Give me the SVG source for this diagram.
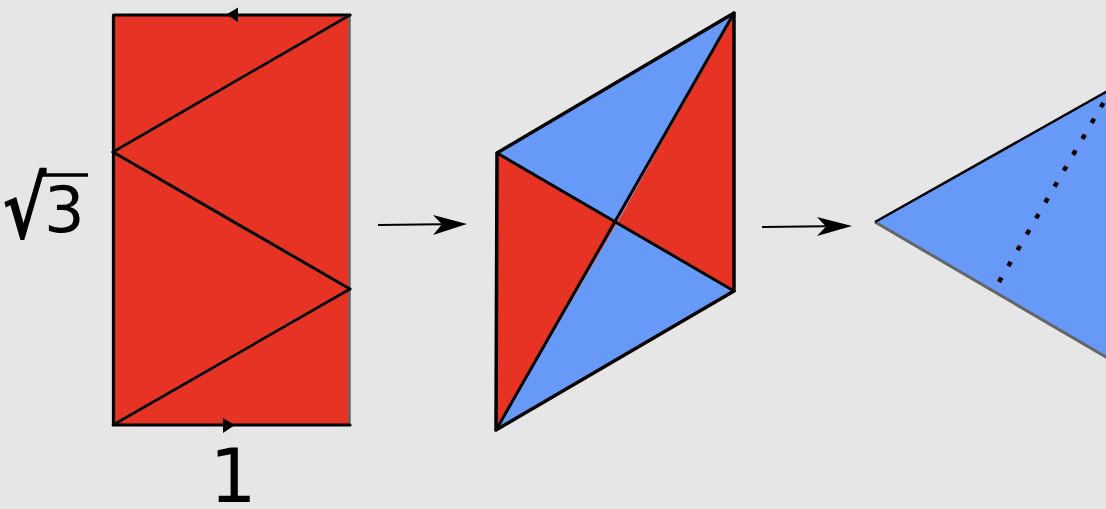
<svg xmlns="http://www.w3.org/2000/svg" width="1106" height="509" viewBox="0 0 1106 509">
<style>
.red{fill:#e63323}
.blue{fill:#6699f8}
.edge{stroke:#000;fill:none;stroke-linecap:round;stroke-linejoin:round}
.lbl{font-family:"DejaVu Sans",sans-serif;fill:#000}
</style>
<rect x="0" y="0" width="1106" height="509" fill="#e6e6e6"/>
<g id="rectangle">
<rect class="red" x="113" y="15" width="237" height="410"/>
<line x1="349.5" y1="15" x2="349.5" y2="425" stroke="#666" stroke-width="2.5"/>
<path class="edge" d="M350,15 L113.5,15 L113.5,425 L350,425" stroke-width="3.2" stroke-linecap="square" stroke-linejoin="miter"/>
<line class="edge" x1="113" y1="152" x2="350" y2="15" stroke-width="2.6"/>
<line class="edge" x1="113" y1="152" x2="350" y2="289" stroke-width="3"/>
<line class="edge" x1="350" y1="289" x2="113" y2="425" stroke-width="2.6"/>
<path d="M226.5,14.5 L238,7.5 L238,22 Z" fill="#000"/>
<path d="M235,425 L223,418 L223,433 Z" fill="#000"/>
</g>
<g id="label-1"><text class="lbl" x="233" y="502" font-size="74" text-anchor="middle">1</text></g>
<g id="label-sqrt3">
<text class="lbl" transform="translate(2,238) scale(1.15,1.45)" font-size="58" font-weight="bold">√</text>
<line x1="41" y1="175" x2="88" y2="175" stroke="#000" stroke-width="3.4"/>
<text class="lbl" x="44" y="232" font-size="64">3</text>
</g>
<g id="rhombus">
<polygon class="blue" points="497,153 734,13 617,223"/>
<polygon class="red" points="734,13 734,291 617,223"/>
<polygon class="blue" points="734,291 496,430 617,223"/>
<polygon class="red" points="496,430 497,153 617,223"/>
<polygon class="edge" points="497,153 734,13 734,291 496,430" stroke-width="3.5"/>
<line class="edge" x1="497" y1="153" x2="734" y2="291" stroke-width="3"/>
<line class="edge" x1="734" y1="13" x2="496" y2="430" stroke-width="3"/>
</g>
<g id="triangle">
<polygon class="blue" points="875,222 1200,39 1200,412"/>
<line x1="875" y1="222" x2="1200" y2="412" stroke="#666" stroke-width="3"/>
<line x1="875" y1="222" x2="1200" y2="39" stroke="#000" stroke-width="2.5"/>
<line x1="999" y1="282" x2="1112" y2="88" stroke="#000" stroke-width="4.5" stroke-dasharray="5 13.4"/>
</g>
<g id="connectors">
<path d="M378,225 L462,224" stroke="#000" stroke-width="2.2" fill="none"/>
<path d="M467,224 L433,215 L442,224.3 L433,235 Z" fill="#000"/>
<path d="M762,227 L846,226" stroke="#000" stroke-width="2.2" fill="none"/>
<path d="M852,226 L817,217 L826,226.5 L817,236 Z" fill="#000"/>
</g>
</svg>
